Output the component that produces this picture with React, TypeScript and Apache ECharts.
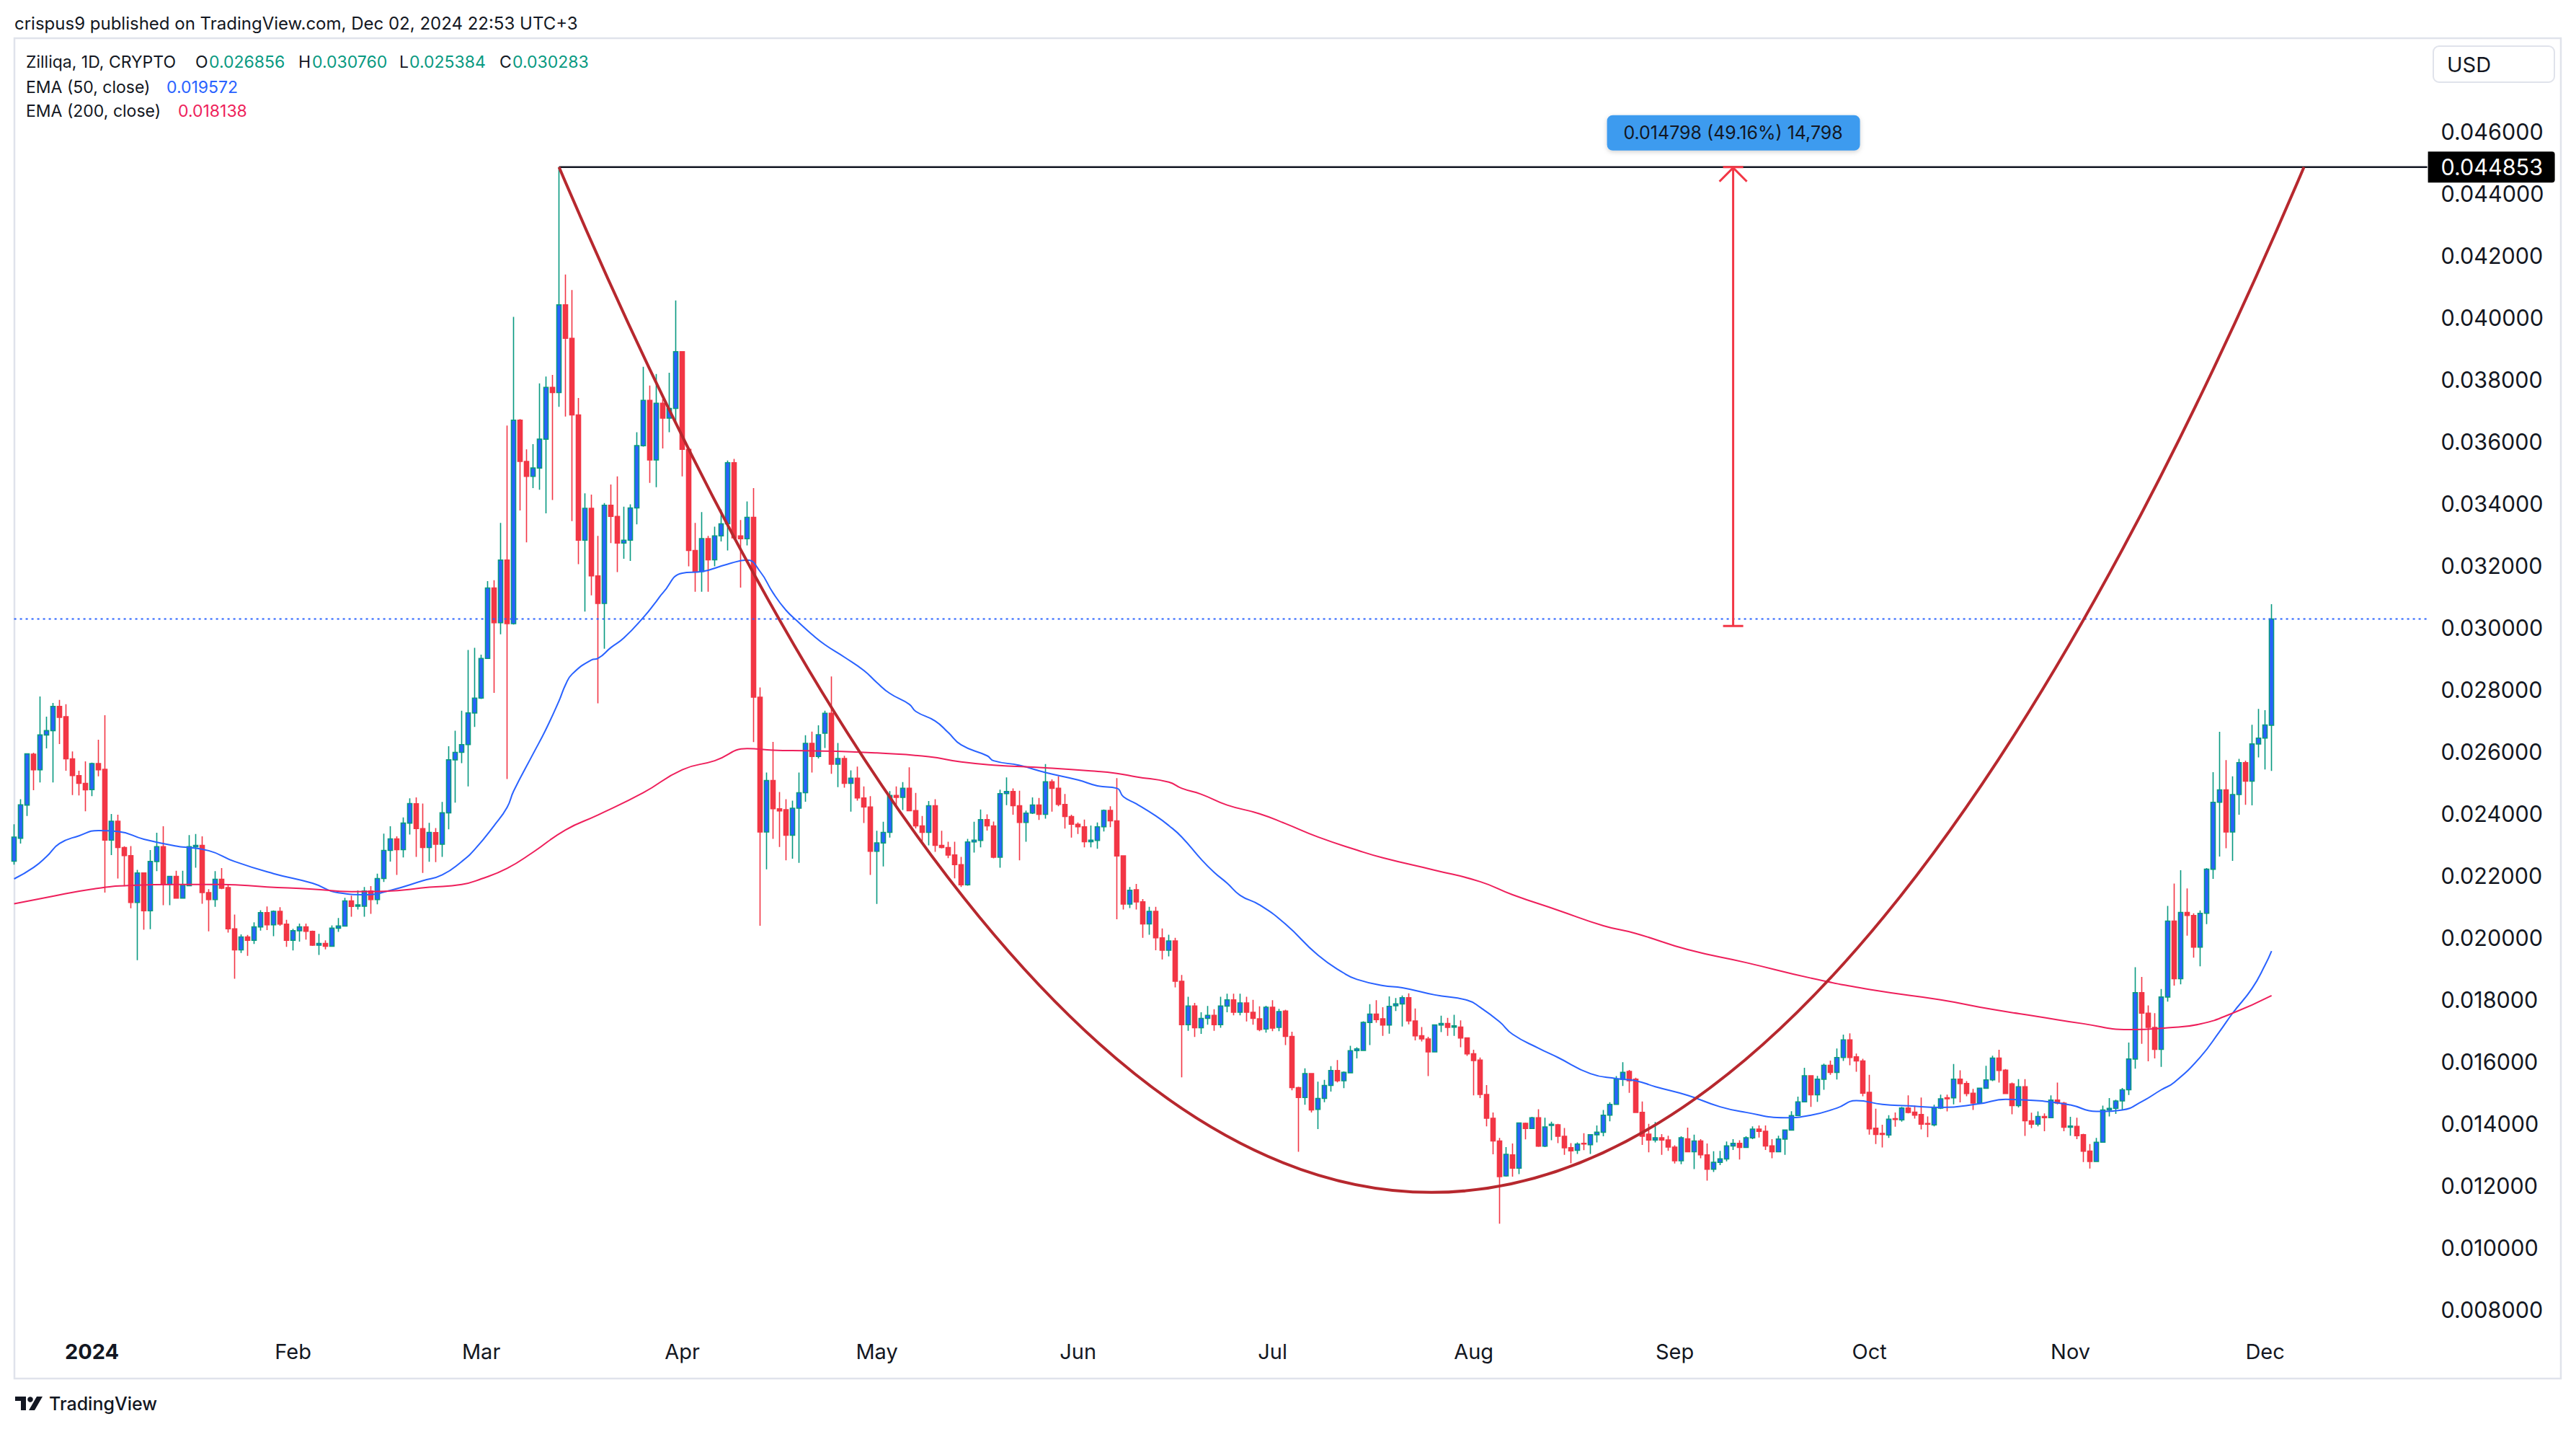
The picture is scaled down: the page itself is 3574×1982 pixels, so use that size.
import React, { useEffect, useRef } from "react";
import * as echarts from "echarts";

// ---------- categories (daily, 2023-12-20 .. 2024-12-26) ----------
const FIRST_DAY = Date.UTC(2023, 11, 20);
const LAST_AXIS_DAY = Date.UTC(2024, 11, 26);
const DAY_MS = 86400000;
const categories: string[] = [];
for (let t = FIRST_DAY; t <= LAST_AXIS_DAY; t += DAY_MS) {
  categories.push(new Date(t).toISOString().slice(0, 10));
}
const JAN1_INDEX = 12; // index of 2024-01-01 in categories

const monthTickDates = [
  "2024-01-01", "2024-02-01", "2024-03-01", "2024-04-01", "2024-05-01", "2024-06-01",
  "2024-07-01", "2024-08-01", "2024-09-01", "2024-10-01", "2024-11-01", "2024-12-01",
];
const monthTickLabels = ["2024", "Feb", "Mar", "Apr", "May", "Jun", "Jul", "Aug", "Sep", "Oct", "Nov", "Dec"];

const priceTicks = [0.008, 0.01, 0.012, 0.014, 0.016, 0.018, 0.02, 0.022, 0.024, 0.026, 0.028, 0.03,
  0.032, 0.034, 0.036, 0.038, 0.04, 0.042, 0.044, 0.046];

// ---------- daily candles [open, high, low, close] ----------
const dec23 = [
  [0.02247, 0.02366, 0.02236, 0.02325], [0.02321, 0.02447, 0.02304, 0.02429], [0.02428, 0.02595, 0.02393, 0.02593],
  [0.02592, 0.02597, 0.02476, 0.02542], [0.02542, 0.02778, 0.02501, 0.02654], [0.02654, 0.02713, 0.02611, 0.02668],
  [0.02668, 0.02757, 0.02501, 0.02746], [0.02746, 0.02767, 0.02625, 0.02711], [0.02713, 0.02753, 0.02539, 0.02577],
  [0.02577, 0.02601, 0.0246, 0.02523], [0.02523, 0.02539, 0.02459, 0.02498], [0.02498, 0.02569, 0.02408, 0.02477],
];
const jan24 = [
  [0.02478, 0.02565, 0.02457, 0.02562], [0.02562, 0.02639, 0.02521, 0.02542], [0.02543, 0.02718, 0.02146, 0.02315],
  [0.02315, 0.02399, 0.02267, 0.02376], [0.02376, 0.02397, 0.02191, 0.02291], [0.02291, 0.02295, 0.02166, 0.02265],
  [0.02265, 0.02296, 0.02095, 0.02114], [0.02114, 0.02219, 0.01928, 0.02209], [0.02209, 0.02211, 0.02026, 0.02087],
  [0.02087, 0.02283, 0.02028, 0.02246], [0.02246, 0.02339, 0.02215, 0.02294], [0.02294, 0.0236, 0.02105, 0.02172],
  [0.02172, 0.02199, 0.02105, 0.02198], [0.02198, 0.02216, 0.02126, 0.02128], [0.02128, 0.02216, 0.02128, 0.0217],
  [0.02168, 0.02331, 0.02166, 0.02294], [0.02293, 0.02335, 0.02226, 0.02298], [0.02298, 0.02327, 0.0211, 0.02146],
  [0.02146, 0.02157, 0.02021, 0.02123], [0.02123, 0.02215, 0.021, 0.02189], [0.02189, 0.02225, 0.02157, 0.0216],
  [0.02162, 0.02172, 0.02017, 0.02029], [0.02029, 0.02075, 0.01868, 0.01961], [0.01961, 0.02011, 0.01951, 0.02003],
  [0.02003, 0.02009, 0.01942, 0.01992], [0.01992, 0.0205, 0.0198, 0.02035], [0.02035, 0.02089, 0.02023, 0.02081],
  [0.02081, 0.02101, 0.02025, 0.02042], [0.02042, 0.02088, 0.02005, 0.02085], [0.02085, 0.02099, 0.02039, 0.02044],
  [0.02044, 0.02058, 0.01971, 0.01992],
];
const feb24 = [
  [0.01992, 0.02029, 0.01959, 0.02023], [0.02023, 0.02046, 0.01988, 0.02035], [0.02035, 0.02046, 0.01994, 0.02021],
  [0.02021, 0.02023, 0.01974, 0.01976], [0.01976, 0.02013, 0.01945, 0.01982], [0.01982, 0.01992, 0.01963, 0.01973],
  [0.01973, 0.0204, 0.01972, 0.02031], [0.02031, 0.02064, 0.02019, 0.02038], [0.02038, 0.02129, 0.02036, 0.02119],
  [0.02119, 0.02136, 0.02068, 0.02101], [0.02102, 0.02153, 0.02091, 0.02106], [0.02102, 0.02164, 0.02068, 0.02151],
  [0.02151, 0.02167, 0.02077, 0.02123], [0.02123, 0.02207, 0.02108, 0.02191], [0.02191, 0.02336, 0.0218, 0.02282],
  [0.02282, 0.0236, 0.02246, 0.02319], [0.02319, 0.02327, 0.02203, 0.02284], [0.02284, 0.02388, 0.02259, 0.0237],
  [0.0237, 0.0245, 0.02333, 0.02433], [0.02432, 0.02453, 0.02261, 0.02352], [0.02352, 0.02433, 0.02209, 0.02291],
  [0.02291, 0.02371, 0.02245, 0.0234], [0.02339, 0.02354, 0.02244, 0.02302], [0.02302, 0.02438, 0.02261, 0.02403],
  [0.02403, 0.02618, 0.0235, 0.02574], [0.02574, 0.02668, 0.02436, 0.02598], [0.02598, 0.02732, 0.02563, 0.02623],
  [0.02623, 0.02928, 0.02488, 0.02725], [0.02725, 0.02935, 0.0268, 0.02773],
];
const mar24 = [
  [0.02773, 0.02913, 0.0277, 0.02901], [0.02901, 0.0315, 0.029, 0.03128], [0.03128, 0.03153, 0.0279, 0.03016],
  [0.03016, 0.03338, 0.02979, 0.03218], [0.03218, 0.03652, 0.02512, 0.03013], [0.03013, 0.04002, 0.0301, 0.03669],
  [0.03669, 0.03673, 0.03378, 0.03536], [0.03536, 0.03575, 0.03275, 0.03488], [0.03488, 0.03592, 0.0345, 0.03515],
  [0.03515, 0.03788, 0.03445, 0.03608], [0.03608, 0.0381, 0.03369, 0.03775], [0.03775, 0.03815, 0.03412, 0.03758],
  [0.03758, 0.044853, 0.03712, 0.04041], [0.04041, 0.04139, 0.03681, 0.03933], [0.03933, 0.04089, 0.03344, 0.03686],
  [0.03686, 0.03741, 0.03205, 0.03282], [0.03282, 0.03433, 0.03052, 0.03385], [0.03385, 0.03429, 0.03104, 0.03167],
  [0.03167, 0.03296, 0.02756, 0.03078], [0.03078, 0.03402, 0.02932, 0.03395], [0.03395, 0.03462, 0.03273, 0.03359],
  [0.03359, 0.03488, 0.03179, 0.03273], [0.03273, 0.0339, 0.03222, 0.03282], [0.03282, 0.03398, 0.03215, 0.03386],
  [0.03386, 0.0363, 0.03333, 0.03587], [0.03587, 0.03841, 0.03584, 0.03733], [0.03733, 0.03781, 0.03467, 0.03541],
  [0.03541, 0.03818, 0.03453, 0.03724], [0.03724, 0.03738, 0.03578, 0.03676], [0.03676, 0.03822, 0.0363, 0.03707],
  [0.03707, 0.04055, 0.03664, 0.0389],
];
const apr24 = [
  [0.0389, 0.03892, 0.03488, 0.03575], [0.03575, 0.03578, 0.03198, 0.03249], [0.03249, 0.03338, 0.03116, 0.03181],
  [0.03181, 0.03373, 0.03116, 0.03287], [0.03287, 0.03296, 0.03116, 0.03219], [0.03219, 0.03326, 0.03198, 0.03296],
  [0.03296, 0.03381, 0.03278, 0.03335], [0.03335, 0.03539, 0.03249, 0.03532], [0.03532, 0.03544, 0.03284, 0.0329],
  [0.03296, 0.03347, 0.03129, 0.03287], [0.03287, 0.03407, 0.03265, 0.03356], [0.03356, 0.0345, 0.02631, 0.02776],
  [0.02776, 0.02807, 0.02039, 0.02341], [0.02341, 0.02533, 0.02221, 0.02507], [0.02507, 0.02632, 0.02319, 0.02416],
  [0.02416, 0.0247, 0.02293, 0.02409], [0.02413, 0.02447, 0.0225, 0.02331], [0.02331, 0.02442, 0.02255, 0.02418],
  [0.02418, 0.02533, 0.02242, 0.02468], [0.02468, 0.02653, 0.02439, 0.02627], [0.02627, 0.02665, 0.02533, 0.02585],
  [0.02585, 0.02685, 0.02578, 0.02655], [0.0266, 0.02732, 0.02612, 0.02724], [0.02724, 0.02843, 0.02529, 0.0256],
  [0.0256, 0.02628, 0.02486, 0.02578], [0.02578, 0.02587, 0.02484, 0.02498], [0.02498, 0.0254, 0.02407, 0.02515],
  [0.02515, 0.02552, 0.02442, 0.02451], [0.02451, 0.02488, 0.0237, 0.02422], [0.02422, 0.02457, 0.02203, 0.02279],
];
const may24 = [
  [0.02279, 0.02345, 0.02109, 0.02306], [0.02306, 0.02374, 0.0223, 0.0234], [0.0234, 0.02473, 0.02323, 0.02459],
  [0.02459, 0.02488, 0.02426, 0.02453], [0.02453, 0.02502, 0.02412, 0.02482], [0.02482, 0.0255, 0.02408, 0.0241],
  [0.0241, 0.02467, 0.02353, 0.02361], [0.02361, 0.02393, 0.02312, 0.0234], [0.0234, 0.02441, 0.02298, 0.02426],
  [0.02426, 0.02447, 0.02277, 0.02298], [0.02298, 0.02345, 0.02288, 0.02291], [0.02291, 0.0231, 0.02257, 0.02267],
  [0.02267, 0.0231, 0.02192, 0.02236], [0.02236, 0.02261, 0.02164, 0.02171], [0.02171, 0.02319, 0.02168, 0.02309],
  [0.02309, 0.02374, 0.02275, 0.02315], [0.02314, 0.02414, 0.02292, 0.02381], [0.02381, 0.02398, 0.02346, 0.02361],
  [0.02361, 0.02375, 0.02256, 0.0226], [0.0226, 0.02478, 0.02226, 0.02465], [0.02465, 0.02517, 0.02428, 0.02472],
  [0.02472, 0.02482, 0.02397, 0.02426], [0.02426, 0.02474, 0.0225, 0.02372], [0.02372, 0.0241, 0.0231, 0.02402],
  [0.02402, 0.02453, 0.02399, 0.02428], [0.02428, 0.02451, 0.0238, 0.02398], [0.02398, 0.0256, 0.02384, 0.02503],
  [0.02503, 0.02511, 0.02407, 0.02482], [0.02482, 0.02521, 0.02424, 0.0243], [0.0243, 0.02464, 0.02352, 0.02391],
  [0.02391, 0.02397, 0.02323, 0.02366],
];
const jun24 = [
  [0.02366, 0.02372, 0.02335, 0.02358], [0.02358, 0.02381, 0.02292, 0.0231], [0.0231, 0.02362, 0.02292, 0.02315],
  [0.02314, 0.02372, 0.02287, 0.02358], [0.02358, 0.02414, 0.02343, 0.02411], [0.02411, 0.02424, 0.02357, 0.02377],
  [0.02377, 0.02515, 0.0206, 0.02264], [0.02264, 0.02265, 0.02091, 0.02109], [0.02109, 0.02164, 0.02096, 0.02153],
  [0.02155, 0.02174, 0.02091, 0.02116], [0.02116, 0.02125, 0.02, 0.02045], [0.02045, 0.021, 0.0201, 0.02085],
  [0.02085, 0.021, 0.0196, 0.02], [0.02, 0.0203, 0.0193, 0.0196], [0.0196, 0.0201, 0.0194, 0.0199],
  [0.0199, 0.02, 0.0184, 0.0186], [0.0186, 0.0188, 0.0155, 0.0172], [0.0172, 0.0181, 0.017, 0.0178],
  [0.0178, 0.0179, 0.0168, 0.0171], [0.0171, 0.0176, 0.0169, 0.0174], [0.0174, 0.0178, 0.0172, 0.0175],
  [0.0175, 0.0177, 0.017, 0.0172], [0.0172, 0.0181, 0.0171, 0.0178], [0.0178, 0.0182, 0.0176, 0.018],
  [0.018, 0.0182, 0.0175, 0.0176], [0.0176, 0.0182, 0.0175, 0.0179], [0.0179, 0.0181, 0.0173, 0.0176],
  [0.0176, 0.018, 0.0172, 0.0174], [0.01739, 0.01779, 0.01699, 0.01704], [0.01706, 0.01781, 0.01694, 0.01776],
];
const jul24 = [
  [0.01776, 0.01799, 0.01699, 0.01709], [0.01711, 0.01771, 0.01699, 0.01762], [0.01764, 0.01768, 0.01654, 0.01682],
  [0.01682, 0.01697, 0.01508, 0.01517], [0.01517, 0.0152, 0.0131, 0.01485], [0.01485, 0.01579, 0.01462, 0.01562],
  [0.01562, 0.01564, 0.01437, 0.01445], [0.01447, 0.01536, 0.01383, 0.01482], [0.01482, 0.01542, 0.0147, 0.01524],
  [0.01524, 0.01586, 0.01504, 0.01572], [0.01572, 0.01606, 0.01534, 0.01539], [0.01539, 0.01569, 0.01515, 0.01566],
  [0.01565, 0.01652, 0.01563, 0.01636], [0.01636, 0.01647, 0.01611, 0.01642], [0.01637, 0.01731, 0.01636, 0.01727],
  [0.01727, 0.01786, 0.01654, 0.01754], [0.01754, 0.01799, 0.01726, 0.01736], [0.01739, 0.01776, 0.01684, 0.01719],
  [0.01719, 0.01811, 0.01691, 0.01779], [0.01781, 0.01806, 0.01764, 0.01787], [0.01787, 0.01814, 0.01714, 0.01807],
  [0.01807, 0.01821, 0.01721, 0.01732], [0.01732, 0.01772, 0.01669, 0.01684], [0.01684, 0.01712, 0.01666, 0.01674],
  [0.01674, 0.01681, 0.01554, 0.01632], [0.01632, 0.01721, 0.01631, 0.01719], [0.01719, 0.01749, 0.01696, 0.01724],
  [0.01724, 0.01742, 0.01684, 0.01711], [0.01712, 0.01752, 0.01684, 0.01716], [0.01712, 0.01734, 0.01647, 0.01677],
  [0.01677, 0.01679, 0.01619, 0.01626],
];
const aug24 = [
  [0.01626, 0.01639, 0.01492, 0.01604], [0.01606, 0.01614, 0.01483, 0.01495], [0.01495, 0.01525, 0.01392, 0.01418],
  [0.01418, 0.01437, 0.01302, 0.01345], [0.01345, 0.01355, 0.01078, 0.0123], [0.01232, 0.01325, 0.0123, 0.01302],
  [0.013, 0.01337, 0.0123, 0.01257], [0.01257, 0.01405, 0.01238, 0.01403], [0.01402, 0.01404, 0.0135, 0.01385],
  [0.01385, 0.01423, 0.01384, 0.0142], [0.0142, 0.01447, 0.01326, 0.01328], [0.01328, 0.0142, 0.01325, 0.0139],
  [0.01395, 0.01407, 0.01347, 0.01399], [0.01397, 0.014, 0.01338, 0.0136], [0.0136, 0.01387, 0.013, 0.01323],
  [0.01323, 0.01338, 0.01273, 0.01313], [0.01315, 0.0134, 0.01303, 0.01335], [0.01337, 0.0137, 0.01315, 0.01335],
  [0.01333, 0.01367, 0.01303, 0.01365], [0.01365, 0.01395, 0.0134, 0.01373], [0.01373, 0.01445, 0.0136, 0.01428],
  [0.01428, 0.0147, 0.01408, 0.01463], [0.01463, 0.01554, 0.01461, 0.01544], [0.01544, 0.01599, 0.01522, 0.01566],
  [0.01569, 0.01574, 0.015, 0.01539], [0.01544, 0.01549, 0.01435, 0.01437], [0.01437, 0.01472, 0.01332, 0.0136],
  [0.01367, 0.014, 0.01308, 0.01348], [0.01348, 0.01406, 0.0134, 0.01355], [0.01355, 0.01367, 0.013, 0.01348],
  [0.01348, 0.01362, 0.01313, 0.01325],
];
const sep24 = [
  [0.01325, 0.01331, 0.01272, 0.01281], [0.01281, 0.0136, 0.0127, 0.01355], [0.01352, 0.01388, 0.01308, 0.0131],
  [0.0131, 0.01365, 0.01254, 0.01345], [0.01345, 0.01351, 0.01289, 0.013], [0.013, 0.01337, 0.01217, 0.01254],
  [0.01254, 0.01312, 0.01245, 0.01276], [0.01276, 0.01313, 0.01267, 0.01287], [0.01287, 0.01343, 0.01279, 0.01329],
  [0.01329, 0.01351, 0.01316, 0.01337], [0.01337, 0.01347, 0.01285, 0.01324], [0.01324, 0.0136, 0.01322, 0.01355],
  [0.01355, 0.01392, 0.01351, 0.01383], [0.01383, 0.01395, 0.01356, 0.01376], [0.01376, 0.01395, 0.01316, 0.01329],
  [0.01329, 0.01351, 0.01289, 0.0131], [0.0131, 0.01362, 0.01308, 0.01351], [0.01351, 0.01382, 0.013, 0.0138],
  [0.0138, 0.01441, 0.01378, 0.01427], [0.01427, 0.01488, 0.01425, 0.01471], [0.01471, 0.01581, 0.0147, 0.01555],
  [0.01555, 0.01557, 0.01455, 0.01494], [0.01494, 0.01555, 0.01471, 0.01544], [0.01544, 0.01594, 0.0151, 0.01589],
  [0.01589, 0.01604, 0.01558, 0.01566], [0.01566, 0.01643, 0.01543, 0.01614], [0.01614, 0.01688, 0.01603, 0.01671],
  [0.01671, 0.01692, 0.01589, 0.01614], [0.01616, 0.01627, 0.01568, 0.01603], [0.01603, 0.0161, 0.01489, 0.01499],
];
const oct24 = [
  [0.01502, 0.01558, 0.01365, 0.01384], [0.01386, 0.01449, 0.01335, 0.01366], [0.01369, 0.01397, 0.01324, 0.01366],
  [0.01364, 0.01428, 0.01355, 0.01415], [0.01417, 0.01437, 0.01391, 0.01414], [0.01413, 0.01455, 0.01407, 0.01451],
  [0.01451, 0.01492, 0.01434, 0.01437], [0.01438, 0.01459, 0.01417, 0.01428], [0.0143, 0.01485, 0.01382, 0.01399],
  [0.01401, 0.01424, 0.01357, 0.01399], [0.01397, 0.01462, 0.01392, 0.01451], [0.01451, 0.01494, 0.01448, 0.01481],
  [0.01484, 0.01494, 0.0144, 0.01481], [0.01484, 0.01593, 0.01463, 0.01544], [0.01544, 0.01573, 0.01469, 0.0153],
  [0.0153, 0.01538, 0.01489, 0.01498], [0.01499, 0.01513, 0.01445, 0.01467], [0.01467, 0.01517, 0.01465, 0.01515],
  [0.01515, 0.01587, 0.01513, 0.01542], [0.01542, 0.0162, 0.01538, 0.01612], [0.01612, 0.01639, 0.01533, 0.01572],
  [0.01573, 0.01577, 0.01498, 0.01498], [0.01529, 0.01533, 0.01431, 0.01459], [0.01459, 0.01544, 0.01453, 0.0152],
  [0.0152, 0.01544, 0.01361, 0.0141], [0.0141, 0.01436, 0.01386, 0.01399], [0.01399, 0.0144, 0.01392, 0.01424],
  [0.01424, 0.01434, 0.01376, 0.0142], [0.0142, 0.01492, 0.01419, 0.01477], [0.01477, 0.01533, 0.01463, 0.01467],
  [0.01467, 0.01471, 0.01376, 0.01389],
];
const nov24 = [
  [0.01389, 0.01423, 0.01362, 0.01393], [0.01392, 0.0142, 0.01351, 0.01362], [0.01365, 0.01368, 0.01277, 0.01312],
  [0.01312, 0.01335, 0.01256, 0.01279], [0.01279, 0.01355, 0.01278, 0.01341], [0.01341, 0.01459, 0.0134, 0.01445],
  [0.01445, 0.01483, 0.01424, 0.0145], [0.0145, 0.01478, 0.01432, 0.01474], [0.01474, 0.01516, 0.01445, 0.0151],
  [0.0151, 0.01662, 0.01493, 0.01609], [0.01609, 0.01905, 0.01578, 0.01823], [0.01823, 0.01874, 0.01658, 0.01757],
  [0.01757, 0.01782, 0.01602, 0.01711], [0.01711, 0.01757, 0.01611, 0.0164], [0.0164, 0.01835, 0.01584, 0.01809],
  [0.01809, 0.02103, 0.01794, 0.02054], [0.02054, 0.02175, 0.01846, 0.01868], [0.01868, 0.02218, 0.0185, 0.02082],
  [0.02082, 0.02159, 0.02007, 0.02072], [0.02072, 0.02079, 0.01936, 0.0197], [0.0197, 0.02088, 0.01908, 0.02079],
  [0.02079, 0.02225, 0.02044, 0.02221], [0.02221, 0.02534, 0.0219, 0.02437], [0.02437, 0.02664, 0.02262, 0.02477],
  [0.02477, 0.02573, 0.02289, 0.02341], [0.02341, 0.02521, 0.02248, 0.02462], [0.02462, 0.02577, 0.02397, 0.02565],
  [0.02565, 0.02571, 0.02429, 0.02505], [0.02505, 0.02687, 0.02427, 0.02625], [0.02625, 0.02738, 0.02582, 0.02644],
];
const dec24 = [
  [0.02644, 0.02734, 0.02543, 0.02686], [0.026856, 0.03076, 0.025384, 0.030283],
];

// ---------- EMA readings: [days since 2024-01-01, value] ----------
const ema50Points: [number, number][] = [
  [-12, 0.0219], [-9, 0.02227], [-7, 0.02262], [-5, 0.02304], [-2, 0.02329], [1, 0.02346], [4, 0.02343],
  [8, 0.02318], [13, 0.02296], [18, 0.02281], [22, 0.02246], [28, 0.02207], [34, 0.02176], [38, 0.02145],
  [42, 0.02139], [46, 0.02153], [51, 0.02184], [54, 0.02203], [57, 0.02246], [59, 0.02285], [62, 0.02362],
  [64, 0.02421], [65, 0.02473], [68, 0.02593], [70, 0.02673], [72, 0.02764], [73, 0.02816], [74, 0.0285],
  [77, 0.02896], [78, 0.02901], [80, 0.02936], [82, 0.02967], [85, 0.03033], [87, 0.03085], [88, 0.03112],
  [91, 0.03176], [94, 0.03181], [98, 0.03205], [101, 0.03218], [103, 0.03181], [105, 0.03112], [107, 0.03056],
  [109, 0.03016], [111, 0.02978], [113, 0.02945], [116, 0.02905], [119, 0.02862], [121, 0.02823], [123, 0.02788],
  [126, 0.02753], [127, 0.0273], [130, 0.02699], [132, 0.02662], [134, 0.02622], [138, 0.02587], [139, 0.02571],
  [143, 0.02556], [147, 0.02533], [152, 0.02509], [155, 0.0249], [158, 0.02482], [159, 0.02455], [161, 0.02432],
  [164, 0.02393], [166, 0.02362], [168, 0.02325], [171, 0.02253], [173, 0.02211], [175, 0.02176], [177, 0.02137],
  [180, 0.02106], [184, 0.02044], [189, 0.01944], [193, 0.01886], [195, 0.01866], [199, 0.01846], [202, 0.01839],
  [207, 0.01816], [212, 0.01799], [214, 0.01776], [217, 0.01729], [219, 0.01689], [223, 0.01644], [226, 0.01614],
  [231, 0.01562], [235, 0.01546], [238, 0.01539], [241, 0.0152], [246, 0.01492], [251, 0.01455], [255, 0.01437],
  [261, 0.0142], [265, 0.01428], [269, 0.01451], [272, 0.01475], [276, 0.01463], [280, 0.01458], [285, 0.01453],
  [291, 0.01465], [295, 0.01479], [301, 0.01473], [305, 0.01461], [309, 0.0144], [313, 0.01445], [316, 0.01472],
  [319, 0.0151], [321, 0.01534], [325, 0.01615], [328, 0.01698], [330, 0.01757], [333, 0.01837], [335, 0.01912],
  [336, 0.019572],
];
const ema200Points: [number, number][] = [
  [-12, 0.0211], [-7, 0.0213], [0, 0.02157], [6, 0.02169], [13, 0.02172], [20, 0.02172], [27, 0.02164],
  [34, 0.02157], [40, 0.02149], [45, 0.0215], [52, 0.02163], [57, 0.02172], [60, 0.0219], [64, 0.02224],
  [68, 0.02276], [73, 0.02348], [78, 0.02396], [85, 0.02468], [91, 0.02542], [96, 0.02571], [101, 0.0261],
  [105, 0.02605], [110, 0.02603], [117, 0.026], [121, 0.02596], [129, 0.02584], [134, 0.02567], [139, 0.02557],
  [147, 0.02548], [154, 0.02538], [158, 0.0253], [161, 0.02519], [166, 0.02502], [168, 0.02482], [171, 0.02463],
  [175, 0.02428], [180, 0.024], [184, 0.02368], [189, 0.02325], [195, 0.02283], [199, 0.02258], [207, 0.02218],
  [214, 0.02181], [219, 0.02139], [226, 0.02089], [233, 0.02039], [238, 0.02014], [246, 0.01962], [255, 0.0192],
  [265, 0.0187], [275, 0.0183], [285, 0.018], [293, 0.01769], [300, 0.01746], [307, 0.01723], [314, 0.01704],
  [320, 0.0171], [325, 0.01722], [330, 0.01757], [336, 0.018138],
];

// ---------- annotation anchors ----------
const peakDay = 72; // 2024-03-13
const peakPrice = 0.044853;
const lastClose = 0.030283;
const rangeDelta = 0.014798;
const cupEndDay = 341;
const cupBottomDay = 206;
const cupBottomPrice = 0.01179;
const rangeArrowDay = 253;
const rangeLabel = "0.014798 (49.16%) 14,798";

const FONT = "Inter, 'Noto Sans', 'DejaVu Sans', sans-serif";
const TEXT = "#131722";
const GREEN = "#089981";
const BLUE = "#2962ff";
const RED = "#f23645";
const PINK = "#ee1f5b";

const candleData = [
  ...dec23, ...jan24, ...feb24, ...mar24, ...apr24, ...may24, ...jun24, ...jul24, ...aug24,
  ...sep24, ...oct24, ...nov24, ...dec24,
].map(([o, h, l, c]) => [o, c, l, h]);

const monthLabelMap: Record<string, string> = {};
monthTickDates.forEach((d, i) => (monthLabelMap[d] = monthTickLabels[i]));

function isPriceTick(v: number) {
  return priceTicks.some((t) => Math.abs(t - v) < 1e-7);
}

const W = 3574;
const H = 1982;
const GRID_LEFT = 19.6;
const GRID_RIGHT = 206.4;

function txt(x: number, y: number, text: string, fill: string, size: number, extra: any = {}) {
  return {
    type: "text",
    x,
    y,
    z: 60,
    style: {
      text,
      fill,
      fontSize: size,
      fontFamily: FONT,
      align: "left",
      verticalAlign: "middle",
      textAlign: "left",
      textVerticalAlign: "middle",
      ...extra,
    },
  };
}

export default function App() {
  const ref = useRef<HTMLDivElement>(null);
  useEffect(() => {
    if (!ref.current) return;
    const chart = echarts.init(ref.current, null, { renderer: "svg" });
    const option: any = {
      animation: false,
      backgroundColor: "#ffffff",
      grid: [
        { left: GRID_LEFT, right: GRID_RIGHT, top: 10.35, bottom: 79.1 },
        { left: GRID_LEFT, right: GRID_RIGHT, top: 1800, height: 42 },
      ],
      xAxis: [
        {
          type: "category",
          gridIndex: 0,
          data: categories,
          boundaryGap: false,
          show: false,
        },
        {
          type: "category",
          gridIndex: 1,
          data: categories,
          boundaryGap: false,
          axisLine: { show: false },
          axisTick: { show: false },
          splitLine: { show: false },
          axisLabel: {
            interval: (_i: number, val: string) => monthLabelMap[val] !== undefined,
            formatter: (val: string) => {
              const l = monthLabelMap[val];
              if (l === undefined) return "";
              return l === "2024" ? "{b|2024}" : l;
            },
            rich: { b: { fontWeight: "bold", fontSize: 29, fontFamily: FONT, color: TEXT } },
            color: TEXT,
            fontSize: 29,
            fontFamily: FONT,
            margin: 18,
          },
        },
      ],
      yAxis: [
        {
          type: "value",
          gridIndex: 0,
          position: "right",
          min: 0.006,
          max: 0.05,
          interval: 0.002,
          splitLine: { show: false },
          axisLine: { show: false },
          axisTick: { show: false },
          axisLabel: {
            formatter: (v: number) => (isPriceTick(v) ? v.toFixed(6) : ""),
            color: TEXT,
            fontSize: 30.5,
            fontFamily: FONT,
            margin: 19,
          },
        },
        { type: "value", gridIndex: 1, show: false },
      ],
      series: [
        {
          type: "candlestick",
          xAxisIndex: 0,
          yAxisIndex: 0,
          data: candleData,
          barWidth: 7,
          itemStyle: {
            color: BLUE,
            borderColor: GREEN,
            color0: RED,
            borderColor0: RED,
            borderWidth: 1.6,
          },
        },
        {
          type: "line",
          name: "EMA50",
          xAxisIndex: 0,
          yAxisIndex: 0,
          data: ema50Points.map(([d, v]) => [d + JAN1_INDEX, v]),
          smooth: true,
          showSymbol: false,
          lineStyle: { color: BLUE, width: 2 },
        },
        {
          type: "line",
          name: "EMA200",
          xAxisIndex: 0,
          yAxisIndex: 0,
          data: ema200Points.map(([d, v]) => [d + JAN1_INDEX, v]),
          smooth: true,
          showSymbol: false,
          lineStyle: { color: PINK, width: 2 },
        },
      ],
    };
    chart.setOption(option);

    const px = (d: number, v: number) =>
      chart.convertToPixel({ gridIndex: 0 }, [d + JAN1_INDEX, v]) as number[];
    const lastIdxDay = categories.length - 1 - JAN1_INDEX;

    const [peakX, peakY] = px(peakDay, peakPrice);
    const [endX] = px(cupEndDay, peakPrice);
    const [, bottomY] = px(cupBottomDay, cupBottomPrice);
    const cpX = (peakX + endX) / 2;
    const cpY = 2 * bottomY - peakY;
    const [rightX, lastY] = px(lastIdxDay, lastClose);
    const [leftX] = px(-JAN1_INDEX, lastClose);
    const [arrowX, arrowBottom] = px(rangeArrowDay, peakPrice - rangeDelta);
    const [, arrowTop] = px(rangeArrowDay, peakPrice);

    const elements: any[] = [
      // outer frame
      {
        type: "rect",
        z: 1,
        shape: { x: 20, y: 53, width: 3533, height: 1859 },
        style: { fill: "none", stroke: "#e0e3eb", lineWidth: 2.5 },
      },
      // header
      txt(20, 32, "crispus9 published on TradingView.com, Dec 02, 2024 22:53 UTC+3", TEXT, 24),
      // legend
      txt(36, 86, "Zilliqa, 1D, CRYPTO", TEXT, 23),
      txt(271, 86, "O", TEXT, 23),
      txt(290, 86, "0.026856", GREEN, 23),
      txt(414, 86, "H", TEXT, 23),
      txt(433, 86, "0.030760", GREEN, 23),
      txt(554, 86, "L", TEXT, 23),
      txt(568, 86, "0.025384", GREEN, 23),
      txt(693, 86, "C", TEXT, 23),
      txt(711, 86, "0.030283", GREEN, 23),
      txt(36, 121, "EMA (50, close)", TEXT, 23),
      txt(231, 121, "0.019572", BLUE, 23),
      txt(36, 154, "EMA (200, close)", TEXT, 23),
      txt(247, 154, "0.018138", PINK, 23),
      // currency box
      {
        type: "rect",
        z: 60,
        shape: { x: 3376, y: 64, width: 168, height: 50, r: 8 },
        style: { fill: "#ffffff", stroke: "#e0e3eb", lineWidth: 2 },
      },
      txt(3395, 89, "USD", TEXT, 29),
      // last price dotted line
      {
        type: "line",
        z: 40,
        shape: { x1: leftX, y1: lastY, x2: rightX, y2: lastY },
        style: { stroke: BLUE, lineWidth: 2, lineDash: [3, 5] },
      },
      // horizontal resistance line
      {
        type: "line",
        z: 45,
        shape: { x1: peakX, y1: peakY, x2: rightX, y2: peakY },
        style: { stroke: TEXT, lineWidth: 2.5 },
      },
      // cup curve
      {
        type: "bezierCurve",
        z: 50,
        shape: { x1: peakX, y1: peakY, x2: endX, y2: peakY, cpx1: cpX, cpy1: cpY },
        style: { stroke: "#b7282e", lineWidth: 4, fill: "none" },
      },
      // price range arrow
      {
        type: "line",
        z: 52,
        shape: { x1: arrowX, y1: arrowBottom, x2: arrowX, y2: arrowTop },
        style: { stroke: RED, lineWidth: 3 },
      },
      {
        type: "line",
        z: 52,
        shape: { x1: arrowX - 14, y1: arrowBottom, x2: arrowX + 14, y2: arrowBottom },
        style: { stroke: RED, lineWidth: 3 },
      },
      {
        type: "line",
        z: 52,
        shape: { x1: arrowX - 14, y1: arrowTop, x2: arrowX + 14, y2: arrowTop },
        style: { stroke: RED, lineWidth: 3 },
      },
      {
        type: "polyline",
        z: 52,
        shape: { points: [[arrowX - 19, arrowTop + 20], [arrowX, arrowTop + 1], [arrowX + 19, arrowTop + 20]] },
        style: { stroke: RED, lineWidth: 3, fill: "none" },
      },
      {
        type: "rect",
        z: 55,
        shape: { x: arrowX - 175, y: arrowTop - 72, width: 351, height: 49, r: 8 },
        style: { fill: "#3d9bef", shadowBlur: 6, shadowColor: "rgba(0,0,0,0.18)", shadowOffsetY: 2 },
      },
      {
        type: "text",
        z: 56,
        x: arrowX,
        y: arrowTop - 47.5,
        style: {
          text: rangeLabel,
          fill: TEXT,
          fontSize: 25,
          fontFamily: FONT,
          align: "center",
          verticalAlign: "middle",
          textAlign: "center",
          textVerticalAlign: "middle",
        },
      },
      // peak price label on axis
      {
        type: "rect",
        z: 58,
        shape: { x: rightX + 1, y: peakY - 21.5, width: 176, height: 43, r: [0, 4, 4, 0] },
        style: { fill: "#000000" },
      },
      txt(rightX + 19, peakY, "0.044853", "#ffffff", 30.5),
      // footer logo
      {
        type: "rect",
        z: 60,
        shape: { x: 21, y: 1937, width: 15, height: 6 },
        style: { fill: TEXT },
      },
      {
        type: "rect",
        z: 60,
        shape: { x: 29, y: 1937, width: 7, height: 19 },
        style: { fill: TEXT },
      },
      {
        type: "circle",
        z: 60,
        shape: { cx: 42, cy: 1941, r: 3.8 },
        style: { fill: TEXT },
      },
      {
        type: "polygon",
        z: 60,
        shape: { points: [[40, 1956], [48, 1956], [59, 1937], [51, 1937]] },
        style: { fill: TEXT },
      },
      txt(68, 1947, "TradingView", TEXT, 25, { fontWeight: 500 }),
    ];
    chart.setOption({ graphic: { elements } });
    return () => chart.dispose();
  }, []);
  return (
    <div
      ref={ref}
      style={{ position: "fixed", left: 0, top: 0, width: W, height: H, background: "#ffffff" }}
    />
  );
}
